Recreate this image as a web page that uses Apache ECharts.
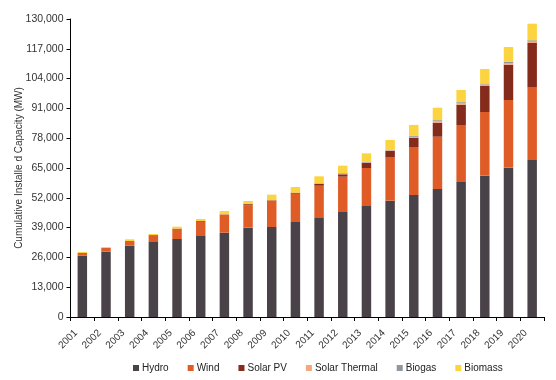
<!DOCTYPE html>
<html>
<head>
<meta charset="utf-8">
<script src="https://cdn.jsdelivr.net/npm/echarts@6/dist/echarts.min.js"></script>
<style>
html,body{margin:0;padding:0;background:#fff;}
#chart{width:556px;height:380px;}
</style>
</head>
<body>
<div id="chart"></div>
<script>
const years = ['2001','2002','2003','2004','2005','2006','2007','2008','2009','2010','2011','2012','2013','2014','2015','2016','2017','2018','2019','2020'];
const hydro = [26740,28490,31110,32720,34030,35340,36780,38960,39260,41440,43190,45810,48420,50740,53220,55840,58890,61650,65140,68490];
const wind = [1180,1610,2040,2900,4360,6240,7850,9770,11480,12360,14090,15420,16580,19060,20940,22820,24870,27780,29520,31850];
const solarPV = [0,0,0,150,150,300,150,500,200,430,870,1020,2180,2620,4060,6100,8860,11340,15410,19190];
const solarThermal = [0,0,0,0,0,0,0,0,0,0,100,200,200,300,400,700,700,700,700,600];
const biogas = [0,0,0,0,0,0,0,0,0,0,100,300,400,300,500,400,400,400,500,600];
const biomass = [440,440,740,440,860,870,1460,1370,2420,2480,3030,3260,3630,4190,4670,5450,5310,6320,6510,7220];
const yTicks = {min: 0, max: 130000, interval: 13000};

const seriesDefs = [
  {name: 'Hydro', data: hydro, color: '#4a4249'},
  {name: 'Wind', data: wind, color: '#e05c26'},
  {name: 'Solar PV', data: solarPV, color: '#842b1c'},
  {name: 'Solar Thermal', data: solarThermal, color: '#f5a77c'},
  {name: 'Biogas', data: biogas, color: '#8e96a0'},
  {name: 'Biomass', data: biomass, color: '#fcd440'}
];

const font = 'Liberation Sans, Arial, sans-serif';
const chart = echarts.init(document.getElementById('chart'), null, {renderer: 'canvas'});
chart.setOption({
  animation: false,
  backgroundColor: '#fff',
  textStyle: {fontFamily: font},
  grid: {left: 70.5, right: 12, top: 19, bottom: 63, containLabel: false},
  legend: {
    data: seriesDefs.map(s => s.name),
    left: 128, top: 358,
    icon: 'rect', itemWidth: 6, itemHeight: 6, itemGap: 19,
    textStyle: {fontFamily: font, fontSize: 10, color: '#222', padding: [0,0,0,-2]}
  },
  xAxis: {
    type: 'category',
    data: years,
    boundaryGap: true,
    axisLine: {lineStyle: {color: '#000', width: 1}},
    axisTick: {show: true, length: 4, alignWithLabel: false, lineStyle: {color: '#000'}},
    axisLabel: {rotate: 45, fontFamily: font, fontSize: 10, color: '#333', margin: 8, interval: 0, padding: [0, 9, 0, 0]}
  },
  yAxis: {
    type: 'value',
    min: yTicks.min, max: yTicks.max, interval: yTicks.interval,
    name: 'Cumulative Installe d Capacity (MW)',
    nameLocation: 'middle', nameRotate: 90, nameGap: 46,
    nameMoveOverlap: false,
    nameTextStyle: {fontFamily: font, fontSize: 10, color: '#333'},
    splitLine: {show: false},
    axisLine: {show: true, lineStyle: {color: '#000', width: 1}},
    axisTick: {show: true, length: 4, lineStyle: {color: '#000'}},
    axisLabel: {
      fontFamily: font, fontSize: 10.5, color: '#333', margin: 7,
      formatter: v => v.toLocaleString('en-US')
    }
  },
  series: seriesDefs.map(s => ({
    name: s.name,
    type: 'bar',
    stack: 'total',
    data: s.data,
    barWidth: '40%',
    itemStyle: {color: s.color},
    emphasis: {disabled: true}
  }))
});
</script>
</body>
</html>
